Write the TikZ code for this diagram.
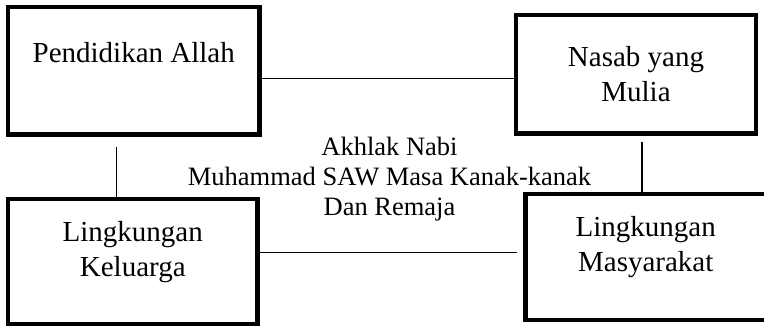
\documentclass[tikz,border=0pt]{standalone}
\usepackage{fontspec}
\setmainfont{Liberation Serif}

\begin{document}
\begin{tikzpicture}[x=1pt,y=-1pt,
            blok/.style={draw,line width=4.5pt,align=center,inner sep=0pt,
              font=\fontsize{29}{35}\selectfont},
            tengah/.style={align=center,inner sep=0pt,
              font=\fontsize{26.5}{30}\selectfont},
            garis/.style={line width=1.4pt}]
            \useasboundingbox (0,0) rectangle (764,326);
            \node[blok,minimum width=251.5pt,minimum height=127.5pt,text depth=36pt]
                   (b1) at (133.75,70.75) {Pendidikan Allah};
            \node[blok,minimum width=240pt,minimum height=118.5pt]
                   (b2) at (636,74.25)    {Nasab yang\\Mulia};
            \node[blok,minimum width=249.5pt,minimum height=125.5pt,text depth=26pt]
                   (b3) at (132.75,261.75) {Lingkungan\\Keluarga};
            \node[blok,minimum width=240.5pt,minimum height=126pt,text depth=26pt]
                   (b4) at (645.75,257)   {Lingkungan\\Masyarakat};
            \node[tengah] (akhlak) at (389.5,179)
                   {Akhlak Nabi\\Muhammad SAW Masa Kanak-kanak\\Dan Remaja};
            \draw[garis] ([yshift=-8pt]b1.east) -- ([yshift=-8pt]b1.east -| b2.west);
            \draw[garis] ([xshift=-17pt,yshift=-10pt]b1.south) -- ([xshift=-17pt]b1.south |- b3.north);
            \draw[garis] ([xshift=6pt,yshift=-6pt]b2.south) -- ([xshift=6pt]b2.south |- b4.north);
            \draw[garis] ([yshift=9pt]b3.east) -- ([yshift=9pt,xshift=-6pt]b3.east -| b4.west);
\end{tikzpicture}
\end{document}
